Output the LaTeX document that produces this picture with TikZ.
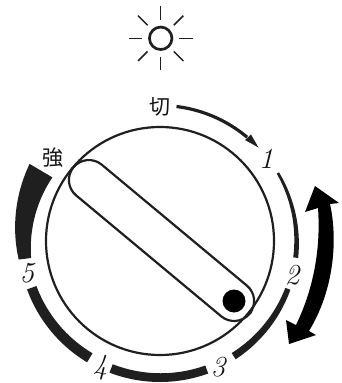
\documentclass[tikz,border=0pt]{standalone}
\usepackage{fontspec}
\newfontfamily\cjk{Noto Sans CJK JP}
\tikzset{
  band/.style={fill=black!88,draw=none},
  num/.style={font=\itshape\addfontfeature{FakeBold=0.25}\fontsize{29}{29}\selectfont,inner sep=0pt,text=black!92},
  kanji/.style={font=\cjk\fontsize{21}{22}\selectfont,inner sep=0pt,text=black!92},
  ray/.style={draw=black!88,line width=1.5pt}
}
% polar band: start angle, end angle, inner r start, outer r start, inner r end, outer r end
\newcommand{\bandseg}[6]{%
  \fill[band] plot[domain=0:1,samples=30] ({160+(#3+(#5-#3)*\x)*cos(#1+(#2-#1)*\x)},{241-(#3+(#5-#3)*\x)*sin(#1+(#2-#1)*\x)})
  -- plot[domain=1:0,samples=30] ({160+(#4+(#6-#4)*\x)*cos(#1+(#2-#1)*\x)},{241-(#4+(#6-#4)*\x)*sin(#1+(#2-#1)*\x)}) -- cycle;}
\begin{document}
\begin{tikzpicture}[x=1pt,y=-1pt]
\useasboundingbox (0,0) rectangle (341,383);
% sun
\node[circle,draw=black!88,line width=2.7pt,minimum size=22.5pt,inner sep=0pt] (sun) at (160.7,38.3) {};
\foreach \a in {0,45,...,315}
  \draw[ray] ({160.7+18.5*cos(\a)},{38.3+18.5*sin(\a)}) -- ({160.7+32*cos(\a)},{38.3+32*sin(\a)});
% dial
\node[circle,draw=black!88,line width=2.2pt,minimum size=228pt,inner sep=0pt] (dial) at (160,241) {};
% handle
\node[draw=black!88,line width=2.2pt,rounded corners=20pt,minimum width=229pt,minimum height=40pt,inner sep=0pt,rotate=-39.8] (handle) at (161.5,240.5) {};
\node[circle,fill=black,minimum size=23pt,inner sep=0pt] (knob) at (234,301) {};
% bands
\bandseg{30}{-7}{134.8}{137.4}{134.2}{139.2}
\bandseg{-20.5}{-57.4}{133.8}{139.2}{133}{140.4}
\bandseg{-70}{-111}{132.5}{141}{132}{141}
\bandseg{-121}{-160}{131}{141.5}{131.5}{141.5}
\bandseg{187.5}{149.4}{130}{142.5}{125}{151.5}
% switch-off arrow
\draw[draw=black!88,line width=3.2pt] plot[domain=0:1,samples=25] ({160+135.5*cos(83-33*\x)},{241-135.5*sin(83-33*\x)});
\fill[band] (251,134.5) -- (258.5,147.5) -- (245,140) -- cycle;
% big arrow
\fill[black] (315,186) -- (339,203) -- (330,204) .. controls (338,240) and (334,290) .. (309,331)
  -- (316,335) -- (289,344) -- (286,320) -- (296,325) .. controls (313,290) and (321,250) .. (318,208)
  -- (305,212) -- cycle;
% labels
\node[kanji] (off) at (160,107) {切};
\node[kanji] (strong) at (53,158) {強};
\node[num] (n1) at (266,159) {1};
\node[num] (n2) at (292,275) {2};
\node[num] (n3) at (218,367) {3};
\node[num] (n4) at (100,368) {4};
\node[num] (n5) at (27,273) {5};
\end{tikzpicture}
\end{document}
